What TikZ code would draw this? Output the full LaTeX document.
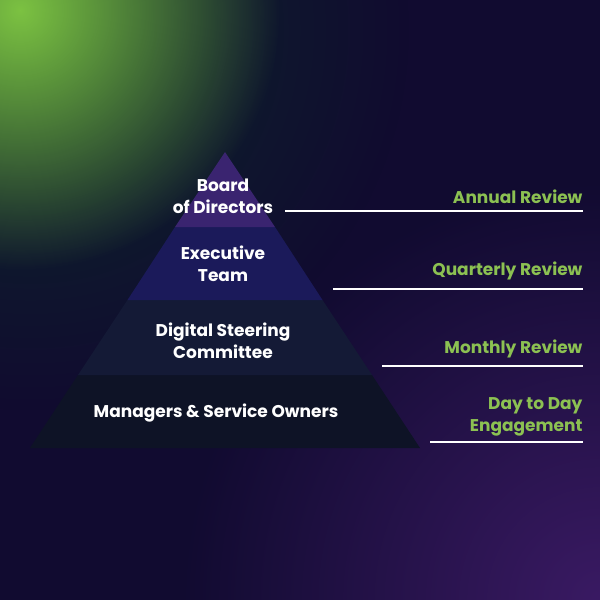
\documentclass[tikz,border=0pt]{standalone}
\usepackage{fontspec}
\setmainfont{Poppins}
\usetikzlibrary{fadings}
\definecolor{bgdark}{HTML}{110B30}
\definecolor{glowgreen}{HTML}{7CC242}
\definecolor{glowteal}{HTML}{0B2A2A}
\definecolor{glowpurple}{HTML}{3A1A63}
\definecolor{layerA}{HTML}{3A2470}
\definecolor{layerB}{HTML}{1B1A5A}
\definecolor{layerC}{HTML}{141A36}
\definecolor{layerD}{HTML}{0E1326}
\definecolor{labelgreen}{HTML}{8CC152}
\tikzfading[name=glowfade, inner color=transparent!0, outer color=transparent!100]
\tikzset{
  tier/.style={text=white, font=\fontsize{17}{22}\selectfont\bfseries, align=center},
  cadence/.style={text=labelgreen, font=\fontsize{17}{22}\selectfont\bfseries, align=right, anchor=south east},
  rule/.style={white, line width=2pt}
}
\begin{document}
\begin{tikzpicture}[x=1pt,y=-1pt]
\useasboundingbox (0,0) rectangle (600,600);
% Background with glows
\fill[bgdark] (0,0) rectangle (600,600);
\fill[glowpurple, path fading=glowfade] (600,600) circle (420);
\fill[glowteal, path fading=glowfade] (30,30) circle (380);
\fill[glowgreen, path fading=glowfade] (20,10) circle (260);

% Layers of the pyramid
\coordinate (apex) at (225,152);
\coordinate (BL) at (30,448);
\coordinate (BR) at (420,448);
\fill[layerD] (78,375) -- (372,375) -- (BR) -- (BL) -- cycle;
\fill[layerC] (127.5,300) -- (322.5,300) -- (372,375) -- (78,375) -- cycle;
\fill[layerB] (175,227) -- (275,227) -- (322.5,300) -- (127.5,300) -- cycle;
\fill[layerA] (apex) -- (275,227) -- (175,227) -- cycle;

% Tier names
\node[tier] (board) at (223,196) {Board\\of Directors};
\node[tier] (exec) at (223,264) {Executive\\Team};
\node[tier] (steer) at (223,341) {Digital Steering\\Committee};
\node[tier] (mgrs) at (216,413) {Managers \& Service Owners};

% Review cadences
\coordinate (r1) at (583,211);
\coordinate (r2) at (583,289);
\coordinate (r3) at (583,366);
\coordinate (r4) at (583,442);
\draw[rule] (285,211) -- (r1);
\draw[rule] (333,289) -- (r2);
\draw[rule] (382,366) -- (r3);
\draw[rule] (430,442) -- (r4);
\node[cadence] (annual) at (586,207) {Annual Review};
\node[cadence] (quarter) at (586,284) {Quarterly Review};
\node[cadence] (month) at (586,362) {Monthly Review};
\node[cadence] (daily) at (586,440) {Day to Day\\Engagement};
\end{tikzpicture}
\end{document}
